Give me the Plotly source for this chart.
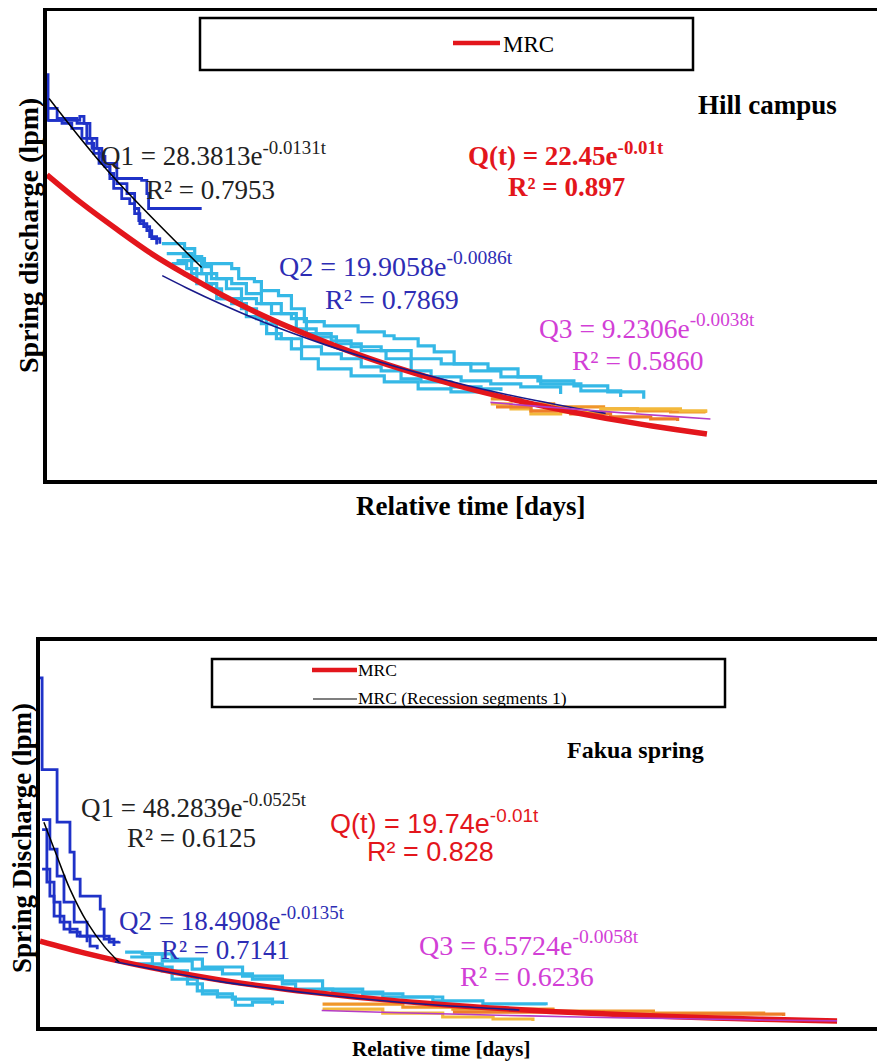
import plotly.graph_objects as go

# ---------------- Hill campus (top panel) : t in days, Q in lpm ----------------
hc_mrc_t = [0, 10, 20, 30, 40, 50, 60, 70, 80, 90, 100, 110, 120, 130, 140, 150, 160, 170, 180, 189]
hc_mrc_q = [22.4, 20.3, 18.4, 16.6, 15.05, 13.6, 12.3, 11.15, 10.1, 9.13, 8.26, 7.47, 6.76, 6.12, 5.53, 5.01, 4.53, 4.10, 3.71, 3.38]

hc_fit1_t = [0.6, 17.7, 44.3]
hc_fit1_q = [28.0, 22.6, 15.6]

hc_fit2_t = [33, 40, 50, 60, 70, 80, 90, 100, 110, 120, 130, 140, 150, 160]
hc_fit2_q = [15.0, 14.1, 12.9, 11.8, 10.8, 9.9, 9.08, 8.31, 7.61, 6.96, 6.37, 5.83, 5.34, 4.89]

hc_fit3_t = [127, 137, 147, 157, 167, 177, 190]
hc_fit3_q = [5.70, 5.48, 5.28, 5.08, 4.89, 4.71, 4.48]

hc_seg1_t = [
    [0.3, 0.3, 7.7, 9.4, 10.6, 12.3, 14.3, 15.7, 16.6, 18.0, 27.1, 28.6, 29.1, 44.3],
    [0.3, 4.3, 7.1, 10.0, 12.9, 14.9, 18.0, 19.1, 21.4, 23.7, 25.1, 26.6, 28.6, 30.0, 32.3],
    [0.3, 2.9, 8.6, 11.4, 13.4, 15.7, 20.0, 22.9, 25.1, 26.3, 27.7, 29.4, 31.4],
]
hc_seg1_q = [
    [29.85, 26.4, 26.4, 26.69, 26.18, 25.07, 24.34, 23.75, 23.01, 22.13, 21.99, 21.03, 19.93, 19.93],
    [26.4, 26.18, 25.81, 25.07, 24.34, 23.24, 22.5, 21.4, 20.66, 20.29, 19.56, 18.82, 18.31, 17.72, 17.35],
    [27.28, 26.54, 26.18, 24.71, 23.97, 23.24, 21.76, 21.03, 19.93, 19.04, 18.6, 17.87, 17.28],
]

hc_seg2_t = [
    [32.9, 39.4, 42.3, 45.1, 52.9, 54.9, 59.4, 61.4, 66.3, 70.0, 73.7, 79.4, 89.1, 96.6, 99.4, 106.3, 110.9, 116.6, 126.3, 134.9, 140.6, 150.9, 160.6, 170.9],
    [34.3, 41.4, 44.3, 48.6, 51.4, 55.7, 60.0, 64.3, 70.0, 74.3, 81.4, 87.1, 95.7, 104.3, 112.9, 121.4, 130.0, 141.4, 152.9, 164.3],
    [35.7, 40.0, 42.9, 47.1, 50.0, 55.7, 60.0, 62.9, 67.1, 72.9, 78.6, 84.3, 90.0, 95.7, 101.4, 107.1, 115.7, 124.3, 130.0],
    [37.1, 41.4, 45.7, 48.6, 52.9, 57.1, 61.4, 65.7, 70.0, 72.9, 77.7, 87.1, 96.6, 106.3, 115.7, 127.1],
    [38.6, 44.3, 47.1, 52.9, 57.1, 61.4, 67.1, 71.4, 77.1, 82.9, 90.0, 97.1, 104.3, 110.0, 118.6, 127.1, 135.7, 147.1],
]
hc_seg2_q = [
    [17.35, 16.99, 16.25, 15.88, 15.51, 14.78, 14.56, 13.9, 13.53, 12.57, 11.62, 11.32, 10.88, 10.59, 10.37, 9.85, 9.41, 8.53, 8.16, 7.57, 7.28, 6.91, 6.47, 5.96],
    [16.62, 16.1, 15.15, 14.78, 14.04, 13.31, 12.94, 12.21, 11.84, 10.74, 10.22, 9.78, 9.49, 8.9, 8.53, 8.01, 7.57, 7.06, 6.54, 6.1],
    [15.88, 15.51, 14.41, 14.04, 13.31, 12.57, 11.84, 10.74, 10.37, 9.78, 9.26, 8.9, 8.31, 8.01, 7.43, 7.21, 6.84, 6.69, 6.54],
    [16.1, 15.15, 14.41, 13.31, 12.94, 11.99, 11.47, 10.37, 9.63, 8.9, 8.16, 7.65, 7.21, 6.69, 6.47, 6.25],
    [16.4, 15.66, 14.78, 14.41, 13.68, 12.94, 12.21, 11.1, 10.51, 10.0, 9.49, 8.9, 8.01, 7.57, 7.28, 7.06, 6.84, 6.32],
]

hc_seg3_t = [
    [127.1, 135.7, 145.1, 159.4, 169.1, 178.6, 188.6],
    [127.1, 132.9, 138.6, 147.1, 158.6, 170.0, 181.4, 189.1],
    [128.6, 138.6, 150.0, 161.4, 172.9, 180.6],
]
hc_seg3_q = [
    [5.96, 5.59, 5.37, 5.22, 5.07, 5.0, 4.93],
    [5.59, 5.22, 4.85, 5.0, 5.22, 5.22, 5.07, 5.07],
    [5.37, 5.07, 4.85, 4.63, 4.49, 4.34],
]

# ---------------- Fakua spring (bottom panel) ----------------
fk_mrc_t = [0, 15, 30, 45, 60, 75, 90, 105, 120, 135, 150, 165, 180, 195, 210, 225, 240, 255, 266]
fk_mrc_q = [19.74, 16.99, 14.62, 12.59, 10.83, 9.32, 8.03, 6.91, 5.95, 5.12, 4.40, 3.79, 3.26, 2.81, 2.42, 2.08, 1.79, 1.54, 1.38]

fk_fit1_t = [1.3, 5.7, 10.0, 15.7, 21.4, 26.4]
fk_fit1_q = [47.1, 39.2, 31.7, 24.1, 18.6, 14.9]

fk_fit2_t = [25, 40, 60, 80, 100, 120, 140, 160]
fk_fit2_q = [15.0, 13.0, 10.5, 8.6, 7.0, 5.7, 4.7, 3.9]

fk_fit3_t = [94, 120, 150, 180, 210, 240, 266]
fk_fit3_q = [3.81, 3.28, 2.75, 2.31, 1.94, 1.63, 1.40]

fk_seg1_t = [
    [0, 0.7, 5.7, 5.7, 10.0, 10.0, 11.4, 13.4, 13.4, 20.1, 20.1, 21.4, 23.1, 26.4],
    [0.7, 3.3, 3.3, 5.7, 5.7, 8.0, 8.0, 11.4, 11.4, 15.7, 15.7, 21.4, 24.7],
    [0.7, 2.3, 2.3, 4.7, 6.7, 10.0, 13.4, 16.7, 19.1],
    [0.7, 3.3, 4.7, 8.0, 12.4, 15.7],
]
fk_seg1_q = [
    [80.3, 59.2, 59.2, 47.1, 47.1, 40.2, 34.0, 33.3, 30.1, 30.1, 27.1, 20.9, 19.5, 19.7],
    [47.7, 46.1, 40.9, 39.2, 34.7, 33.3, 28.7, 27.1, 24.1, 23.2, 20.9, 20.2, 18.6],
    [45.4, 39.2, 33.3, 28.7, 24.1, 21.8, 20.9, 18.6, 17.9],
    [36.3, 30.1, 25.5, 22.5, 20.9, 19.5],
]

fk_seg2_t = [
    [28.4, 34.1, 40.8, 50.8, 60.9, 70.9, 80.9, 85.3, 97.7, 114.4, 131.1, 147.8, 168.9],
    [30.1, 37.5, 44.1, 52.5, 59.2, 65.2, 70.9, 80.9],
    [32.4, 40.8, 49.2, 54.2, 64.2, 74.2, 77.6],
    [34.1, 44.1, 54.2, 67.6, 80.9, 94.3, 107.7, 121.1, 134.4],
]
fk_seg2_q = [
    [17.2, 16.8, 15.2, 13.3, 12.2, 11.0, 9.9, 8.7, 8.0, 6.9, 6.0, 5.3, 5.0],
    [16.1, 13.8, 11.0, 8.3, 6.9, 5.0, 5.7, 5.3],
    [14.5, 12.9, 9.9, 7.6, 6.4, 6.4, 5.0],
    [16.8, 15.6, 13.8, 11.7, 10.6, 8.7, 7.6, 6.9, 6.0],
]

fk_seg3_t = [
    [94.3, 121.1, 137.8, 171.2, 204.7, 241.5],
    [94.3, 114.4, 134.4, 151.2, 164.5],
    [137.8, 188.0, 248.2],
]
fk_seg3_q = [
    [5.28, 4.59, 4.13, 3.67, 3.21, 2.75],
    [4.13, 3.21, 2.30, 1.84, 1.38],
    [3.44, 2.98, 2.52],
]

# ---------------- colours ----------------
C_RED = "#e3161c"
C_SEG1 = "#1f32c8"
C_SEG2 = "#35b8e6"
C_SEG3 = ["#f0962a", "#f3b93c", "#ee7d2a"]
C_NAVY = "#1a1a8a"
C_MAG = "#b43cc8"
C_BLUETXT = "#2d2db4"
C_MAGTXT = "#d23fd6"

fig = go.Figure()


def add_panel(xa, ya, seg1_t, seg1_q, seg2_t, seg2_q, seg3_t, seg3_q,
              fit1_t, fit1_q, fit2_t, fit2_q, fit3_t, fit3_q, mrc_t, mrc_q):
    for t, q in zip(seg1_t, seg1_q):
        fig.add_trace(go.Scatter(x=t, y=q, mode="lines", line=dict(color=C_SEG1, width=2.8, shape="hv"),
                                 xaxis=xa, yaxis=ya, showlegend=False, hoverinfo="skip"))
    for t, q in zip(seg2_t, seg2_q):
        fig.add_trace(go.Scatter(x=t, y=q, mode="lines", line=dict(color=C_SEG2, width=3.2, shape="hv"),
                                 xaxis=xa, yaxis=ya, showlegend=False, hoverinfo="skip"))
    for i, (t, q) in enumerate(zip(seg3_t, seg3_q)):
        fig.add_trace(go.Scatter(x=t, y=q, mode="lines", line=dict(color=C_SEG3[i % 3], width=3.2, shape="hv"),
                                 xaxis=xa, yaxis=ya, showlegend=False, hoverinfo="skip"))
    fig.add_trace(go.Scatter(x=mrc_t, y=mrc_q, mode="lines", line=dict(color=C_RED, width=5.5, shape="spline"),
                             xaxis=xa, yaxis=ya, showlegend=False, hoverinfo="skip"))
    fig.add_trace(go.Scatter(x=fit1_t, y=fit1_q, mode="lines", line=dict(color="black", width=1.5, shape="spline"),
                             xaxis=xa, yaxis=ya, showlegend=False, hoverinfo="skip"))
    fig.add_trace(go.Scatter(x=fit2_t, y=fit2_q, mode="lines", line=dict(color=C_NAVY, width=1.6, shape="spline"),
                             xaxis=xa, yaxis=ya, showlegend=False, hoverinfo="skip"))
    fig.add_trace(go.Scatter(x=fit3_t, y=fit3_q, mode="lines", line=dict(color=C_MAG, width=1.6, shape="spline"),
                             xaxis=xa, yaxis=ya, showlegend=False, hoverinfo="skip"))


add_panel("x", "y", hc_seg1_t, hc_seg1_q, hc_seg2_t, hc_seg2_q, hc_seg3_t, hc_seg3_q,
          hc_fit1_t, hc_fit1_q, hc_fit2_t, hc_fit2_q, hc_fit3_t, hc_fit3_q, hc_mrc_t, hc_mrc_q)
add_panel("x2", "y2", fk_seg1_t, fk_seg1_q, fk_seg2_t, fk_seg2_q, fk_seg3_t, fk_seg3_q,
          fk_fit1_t, fk_fit1_q, fk_fit2_t, fk_fit2_q, fk_fit3_t, fk_fit3_q, fk_mrc_t, fk_mrc_q)

# the page body adds an 8 px margin, so the figure is 8 px smaller and shifted
OFF = 8
W, H = 885 - OFF, 1063 - OFF


def PX(x):
    return (x - OFF) / W


def PY(y):
    return 1 - (y - OFF) / H


ax_common = dict(showgrid=False, zeroline=False, showticklabels=False, ticks="",
                 showline=True, linecolor="black", linewidth=4)

fig.update_layout(
    width=W, height=H, margin=dict(l=0, r=0, t=0, b=0),
    paper_bgcolor="white", plot_bgcolor="white", showlegend=False,
    xaxis=dict(domain=[PX(47), 1], range=[0, 240], anchor="y", **ax_common),
    yaxis=dict(domain=[PY(480), PY(10)], range=[0, 34.5], anchor="x", **ax_common),
    xaxis2=dict(domain=[PX(40), 1], range=[0, 282], anchor="y2", **ax_common),
    yaxis2=dict(domain=[PY(1027), PY(640)], range=[0, 89], anchor="x2", **ax_common),
)

shapes = []
# top frame lines
shapes.append(dict(type="line", xref="paper", yref="paper", x0=PX(43), x1=1, y0=PY(9), y1=PY(9),
                   line=dict(color="black", width=4)))
shapes.append(dict(type="line", xref="paper", yref="paper", x0=PX(36), x1=1, y0=PY(639), y1=PY(639),
                   line=dict(color="black", width=4)))
# legend boxes
shapes.append(dict(type="rect", xref="paper", yref="paper", x0=PX(200), x1=PX(693), y0=PY(70), y1=PY(18),
                   line=dict(color="black", width=2.5), fillcolor="white"))
shapes.append(dict(type="line", xref="paper", yref="paper", x0=PX(453), x1=PX(500), y0=PY(43), y1=PY(43),
                   line=dict(color=C_RED, width=4.5)))
shapes.append(dict(type="rect", xref="paper", yref="paper", x0=PX(212), x1=PX(725), y0=PY(707), y1=PY(659),
                   line=dict(color="black", width=2.5), fillcolor="white"))
shapes.append(dict(type="line", xref="paper", yref="paper", x0=PX(312), x1=PX(357), y0=PY(670), y1=PY(670),
                   line=dict(color=C_RED, width=4.5)))
shapes.append(dict(type="line", xref="paper", yref="paper", x0=PX(313), x1=PX(357), y0=PY(699), y1=PY(699),
                   line=dict(color="black", width=1.2)))
fig.update_layout(shapes=shapes)

SERIF = "Liberation Serif, Times New Roman, serif"
SANS = "Liberation Sans, Arial, sans-serif"

ann = []


def A(text, x, y, size, color="black", anchor="center", family=SERIF, angle=0):
    ann.append(dict(text=text, x=PX(x), y=PY(y), xref="paper", yref="paper", showarrow=False,
                    xanchor=anchor, yanchor="middle", textangle=angle,
                    font=dict(family=family, size=size, color=color)))


# legend texts
A("MRC", 501, 44, 23, anchor="left")
A("MRC", 356, 670, 17.5, anchor="left")
A("MRC (Recession segments 1)", 356, 698, 17.5, anchor="left")

# axis titles
A("<b>Spring discharge (lpm)</b>", 28, 236, 28, angle=-90)
A("<b>Relative time [days]</b>", 470, 506, 27)
A("<b>Spring Discharge (lpm)</b>", 22, 838, 27, angle=-90)
A("<b>Relative time [days]</b>", 441, 1049, 21)

# panel names
A("<b>Hill campus</b>", 767, 105, 27)
A("<b>Fakua spring</b>", 635, 750, 24)

# top equations
A("Q1 = 28.3813e<sup>-0.0131t</sup>", 99, 154, 27, color="#222222", anchor="left")
A("R² = 0.7953", 210, 190, 27, color="#222222")
A("<b>Q(t) = 22.45e<sup>-0.01t</sup></b>", 566, 154, 27, color=C_RED)
A("<b>R² = 0.897</b>", 566, 187, 27, color=C_RED)
A("Q2 = 19.9058e<sup>-0.0086t</sup>", 277, 264, 28, color=C_BLUETXT, anchor="left")
A("R² = 0.7869", 392, 300, 28, color=C_BLUETXT)
A("Q3 = 9.2306e<sup>-0.0038t</sup>", 537, 326, 27.5, color=C_MAGTXT, anchor="left")
A("R² = 0.5860", 637, 360, 27.5, color=C_MAGTXT)

# bottom equations
A("Q1 = 48.2839e<sup>-0.0525t</sup>", 79, 806, 27, color="#222222", anchor="left")
A("R² = 0.6125", 191, 838, 27, color="#222222")
A("Q(t) = 19.74e<sup>-0.01t</sup>", 434, 822, 27, color=C_RED, family=SANS)
A("R² = 0.828", 430, 852, 27, color=C_RED, family=SANS)
A("Q2 = 18.4908e<sup>-0.0135t</sup>", 117, 919, 27, color=C_BLUETXT, anchor="left")
A("R² = 0.7141", 225, 950, 27, color=C_BLUETXT)
A("Q3 = 6.5724e<sup>-0.0058t</sup>", 417, 944, 28, color=C_MAGTXT, anchor="left")
A("R² = 0.6236", 527, 976, 28, color=C_MAGTXT)

fig.update_layout(annotations=ann)

fig.write_html("out.html")
